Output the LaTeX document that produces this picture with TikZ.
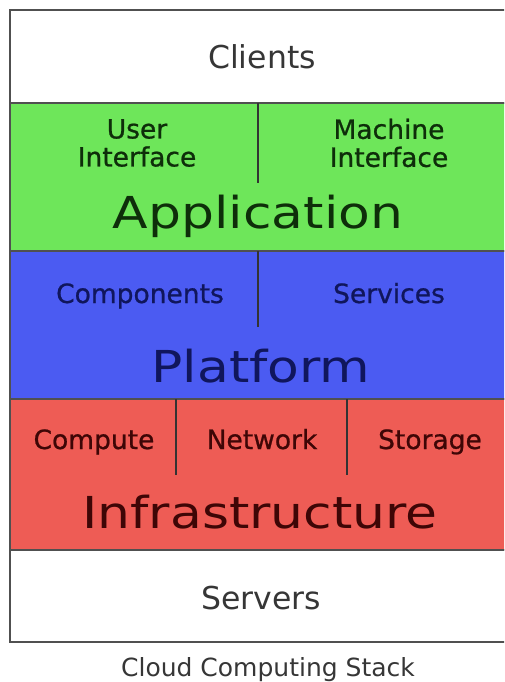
\documentclass[tikz,border=0pt]{standalone}
\usepackage{fontspec}
\setmainfont{DejaVu Sans}
\newfontfamily\widefont{DejaVu Sans}[FakeStretch=1.18]
\newfontfamily\subfont{DejaVu Sans}[FakeBold=0.8]
\usetikzlibrary{positioning}
\definecolor{appgreen}{HTML}{6EE65A}
\definecolor{platblue}{HTML}{4B5BF2}
\definecolor{infrared}{HTML}{EE5C55}
\definecolor{framegrey}{HTML}{505050}
\definecolor{clitext}{HTML}{363636}
\definecolor{apptext}{HTML}{0E2E0A}
\definecolor{plattext}{HTML}{10165C}
\definecolor{infratext}{HTML}{3E0606}
\tikzset{
  x=1pt, y=-1pt,
  layer/.style={draw=framegrey,line width=2pt,minimum width=500pt,
                inner sep=0pt,outer sep=0pt},
  divider/.style={draw=black!80,line width=1.4pt},
  endlbl/.style={anchor=base,text=clitext,font=\fontsize{31.5}{34}\selectfont},
  sublbl/.style={anchor=base,align=center,font=\subfont\fontsize{26.5}{28}\selectfont},
  mainlbl/.style={anchor=base,font=\widefont\fontsize{44}{48}\selectfont},
}

\begin{document}
\begin{tikzpicture}
  \useasboundingbox (0,0) rectangle (504,682);
  \clip (0,0) rectangle (504,682);

  % the stack, top to bottom
  \node[layer,anchor=north west,fill=white,minimum height=93pt] (clients) at (10,10) {};
  \node[layer,below=0pt of clients,fill=appgreen,minimum height=148pt] (app) {};
  \node[layer,below=0pt of app,fill=platblue,minimum height=148pt] (plat) {};
  \node[layer,below=0pt of plat,fill=infrared,minimum height=151pt] (infra) {};
  \node[layer,below=0pt of infra,fill=white,minimum height=92pt] (servers) {};

  % splits inside the layers
  \draw[divider] ([xshift=248pt]app.north west) -- ++(0,80);
  \draw[divider] ([xshift=248pt]plat.north west) -- ++(0,76);
  \draw[divider] ([xshift=166pt]infra.north west) -- ++(0,76);
  \draw[divider] ([xshift=337pt]infra.north west) -- ++(0,76);

  \node[endlbl] (clientslbl) at (262,69) {Clients};

  \node[sublbl,anchor=center,text=apptext] (userif) at (137,143) {User\\Interface};
  \node[sublbl,anchor=center,text=apptext] (machif) at (389,143) {Machine\\Interface};
  \node[mainlbl,text=apptext] (applbl) at (258,228) {Application};

  \node[sublbl,text=plattext] (comps) at (140,303) {Components};
  \node[sublbl,text=plattext] (servs) at (389,303) {Services};
  \node[mainlbl,text=plattext] (platlbl) at (261,382) {Platform};

  \node[sublbl,text=infratext] (compute) at (94,449) {Compute};
  \node[sublbl,text=infratext] (network) at (262,449) {Network};
  \node[sublbl,text=infratext] (storage) at (430,449) {Storage};
  \node[mainlbl,text=infratext] (infralbl) at (260,528) {Infrastructure};

  \node[endlbl] (serverslbl) at (261,609) {Servers};

  \node[anchor=base,text=clitext,font=\fontsize{25}{28}\selectfont] (caption)
    at (268,676) {Cloud Computing Stack};
\end{tikzpicture}
\end{document}
